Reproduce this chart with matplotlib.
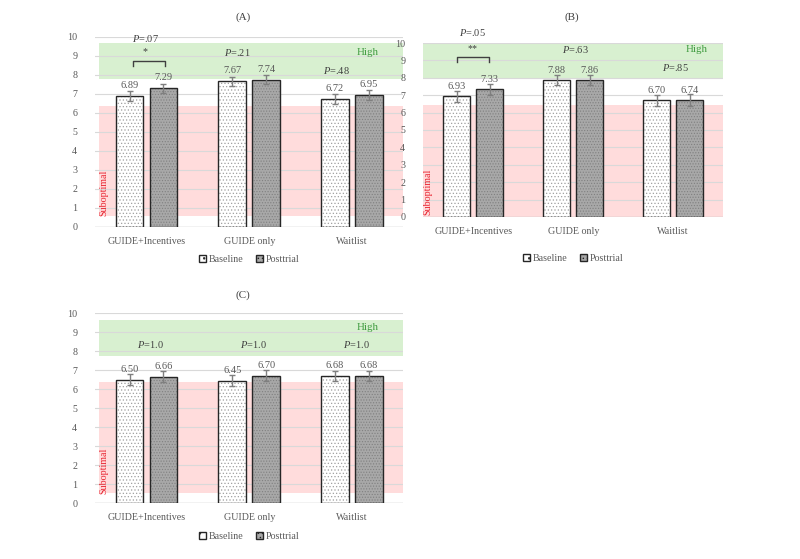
import matplotlib.pyplot as plt
import numpy as np

plt.rcParams['font.family'] = ['Liberation Serif', 'DejaVu Serif']
plt.rcParams['mathtext.fontset'] = 'custom'
plt.rcParams['mathtext.it'] = 'Liberation Serif:italic'
plt.rcParams['mathtext.rm'] = 'Liberation Serif'
plt.rcParams['hatch.linewidth'] = 0.5

# Data
groups = ['GUIDE+Incentives', 'GUIDE only', 'Waitlist']

baseline_a = [6.89, 7.67, 6.72]
posttrial_a = [7.29, 7.74, 6.95]
err_base_a = [0.27, 0.24, 0.26]
err_post_a = [0.25, 0.24, 0.25]

baseline_b = [6.93, 7.88, 6.70]
posttrial_b = [7.33, 7.86, 6.74]
err_base_b = [0.33, 0.30, 0.30]
err_post_b = [0.33, 0.30, 0.35]

baseline_c = [6.50, 6.45, 6.68]
posttrial_c = [6.66, 6.70, 6.68]
err_base_c = [0.27, 0.28, 0.25]
err_post_c = [0.27, 0.30, 0.25]

GREEN = '#d8f0d0'
RED = '#ffdcdc'
GRID = '#d9d9d9'
TXT = '#595959'
DARK = '#404040'
FS = 7.2


def draw_panel(ax, base, post, eb, ep, green, red, sub_x, sub_y):
    x = np.arange(len(groups))
    w = 0.27
    off = 0.165
    ax.set_xlim(-0.5, 2.5)
    ax.set_ylim(0, 10)

    ax.axhspan(green[0], green[1], xmin=green[2], xmax=1, color=GREEN, lw=0, zorder=0)
    ax.axhspan(red[0], red[1], xmin=red[2], xmax=1, color=RED, lw=0, zorder=0)
    for yv in range(1, 11):
        ax.axhline(yv, color=GRID, lw=0.8, zorder=0.5)
    ax.axhline(0, color='#bfbfbf', lw=1, zorder=0.5)

    # baseline bars: white with small dots
    ax.bar(x - off, base, w, color='white', edgecolor='#a0a0a0', hatch='.....', lw=0, zorder=2)
    ax.bar(x - off, base, w, fill=False, edgecolor='#262626', lw=1, zorder=3)
    # posttrial bars: gray with dense pattern
    ax.bar(x + off, post, w, color='#a8a8a8', edgecolor='#808080', hatch='......', lw=0, zorder=2)
    ax.bar(x + off, post, w, fill=False, edgecolor='#262626', lw=1, zorder=3)

    ax.errorbar(x - off, base, yerr=eb, fmt='none', ecolor='#7f7f7f', elinewidth=1, capsize=2.5, zorder=4)
    ax.errorbar(x + off, post, yerr=ep, fmt='none', ecolor='#7f7f7f', elinewidth=1, capsize=2.5, zorder=4)

    for xi, v in zip(x - off, base):
        ax.text(xi, v + 0.55, f'{v:.2f}', ha='center', va='center', fontsize=FS + 0.3, color=TXT, zorder=5)
    for xi, v in zip(x + off, post):
        ax.text(xi, v + 0.55, f'{v:.2f}', ha='center', va='center', fontsize=FS + 0.3, color=TXT, zorder=5)

    ax.text(sub_x, sub_y, 'Suboptimal', rotation=90, ha='center', va='bottom', color='#e8232f',
            fontsize=FS, transform=ax.get_yaxis_transform(), zorder=5)

    for s in ax.spines.values():
        s.set_visible(False)
    ax.set_yticks(range(0, 11))
    ax.set_xticks(x)
    ax.set_xticklabels(groups)
    ax.tick_params(axis='both', length=0, labelsize=FS, colors=TXT)
    ax.tick_params(axis='y', pad=13)
    ax.tick_params(axis='x', pad=7)

    ax.legend([plt.Rectangle((0, 0), 1, 1, facecolor='white', edgecolor='#262626', hatch='..', lw=1),
               plt.Rectangle((0, 0), 1, 1, facecolor='#a8a8a8', edgecolor='#262626', hatch='....', lw=1)],
              ['Baseline', 'Posttrial'], loc='center', ncol=2, frameon=False, fontsize=FS,
              handlelength=0.7, handleheight=0.7, handletextpad=0.3, columnspacing=1.2, labelcolor=TXT)


def bracket(ax, x0, x1, top, leg):
    ax.plot([x0, x0, x1, x1], [top - leg, top, top, top - leg], color=DARK, lw=1, zorder=5,
            clip_on=False)


def ptext(ax, xv, yv, s):
    ax.text(xv, yv, r'$\mathit{P}$' + s, ha='center', va='center', fontsize=FS + 0.3, color=DARK, zorder=5)


fig = plt.figure(figsize=(8, 5.59), dpi=100)

# Panel A
ax_a = fig.add_axes([0.119, 0.594, 0.385, 0.340])
draw_panel(ax_a, baseline_a, posttrial_a, err_base_a, err_post_a,
           (7.78, 9.67, 0.013), (0.58, 6.38, 0.013), 0.027, 0.6)
ax_a.get_legend().set_bbox_to_anchor((0.5, -0.17), transform=ax_a.transAxes)
ptext(ax_a, -0.01, 9.9, '=.07')
ax_a.text(-0.01, 9.2, '*', ha='center', va='center', fontsize=FS, color=DARK)
bracket(ax_a, -0.13, 0.18, 8.74, 0.27)
ptext(ax_a, 0.88, 9.2, '=.21')
ax_a.text(2.15, 9.2, 'High', ha='center', va='center', fontsize=7.8, color='#3f9b3f')
ptext(ax_a, 1.85, 8.25, '=.48')
fig.text(243 / 800, 1 - 17 / 559, '(A)', ha='center', va='center', fontsize=8, color=DARK)

# Panel B
ax_b = fig.add_axes([0.529, 0.612, 0.375, 0.311])
draw_panel(ax_b, baseline_b, posttrial_b, err_base_b, err_post_b,
           (8.0, 10.0, 0.0), (0.0, 6.43, 0.0), 0.017, 0.1)
ax_b.get_legend().set_bbox_to_anchor((0.5, -0.24), transform=ax_b.transAxes)
ptext(ax_b, -0.01, 10.6, '=.05')
ax_b.text(-0.01, 9.7, '**', ha='center', va='center', fontsize=FS, color=DARK)
bracket(ax_b, -0.16, 0.16, 9.19, 0.3)
ptext(ax_b, 1.02, 9.65, '=.63')
ax_b.text(2.23, 9.65, 'High', ha='center', va='center', fontsize=7.8, color='#3f9b3f')
ptext(ax_b, 2.02, 8.62, '=.85')
fig.text(572 / 800, 1 - 17 / 559, '(B)', ha='center', va='center', fontsize=8, color=DARK)

# Panel C
ax_c = fig.add_axes([0.119, 0.100, 0.385, 0.340])
draw_panel(ax_c, baseline_c, posttrial_c, err_base_c, err_post_c,
           (7.74, 9.63, 0.013), (0.53, 6.37, 0.013), 0.027, 0.5)
ax_c.get_legend().set_bbox_to_anchor((0.5, -0.175), transform=ax_c.transAxes)
for xi in range(3):
    ptext(ax_c, xi + 0.04, 8.37, '=1.0')
ax_c.text(2.15, 9.26, 'High', ha='center', va='center', fontsize=7.8, color='#3f9b3f')
fig.text(243 / 800, 1 - 295 / 559, '(C)', ha='center', va='center', fontsize=8, color=DARK)

fig.savefig('out.png', dpi=100)
